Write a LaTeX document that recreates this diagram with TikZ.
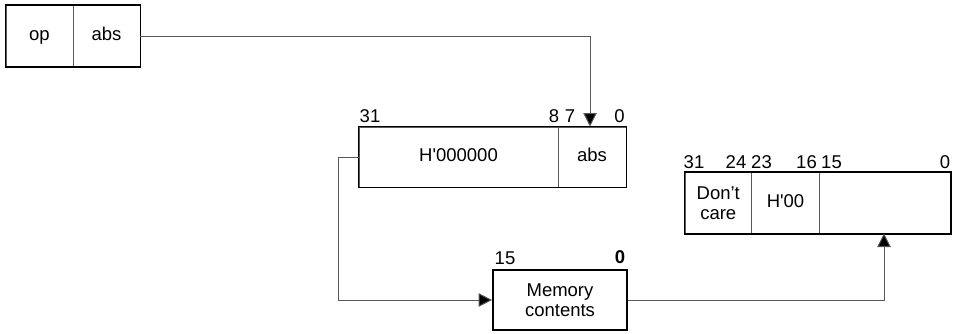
\documentclass[tikz,border=0pt]{standalone}
\usepackage{fontspec}
\setmainfont{Liberation Sans}
\usetikzlibrary{arrows.meta}
\begin{document}
\begin{tikzpicture}[x=1pt,y=-1pt,
  cell/.style={draw=black!65, line width=0.8pt, minimum height=61pt, inner sep=0pt, align=center, font=\fontsize{18.5}{20}\selectfont},
  one/.style={text height=13pt, text depth=4pt},
  frame/.style={draw=black, line width=1.7pt},
  conn/.style={draw=black!65, line width=1pt},
  tip/.style={-{Triangle[length=13.5pt,width=13.5pt,fill=black]}},
  bit/.style={inner sep=0pt, font=\fontsize{18.5}{20}\selectfont}]
\useasboundingbox (0,0) rectangle (957,333);
% instruction
\node[cell, one, minimum width=67pt] (op) at (39.5,36) {op};
\node[cell, one, minimum width=67pt] (abs1) at (106.5,36) {abs};
\draw[frame] (op.north west) rectangle (abs1.south east);
% register after zero extension
\node[cell, one, minimum width=199pt, minimum height=60pt] (hcell) at (458.5,157) {H\textquotesingle 000000};
\node[cell, one, minimum width=68pt, minimum height=60pt] (abs2) at (592,157) {abs};
\draw[frame] (hcell.north west) rectangle (abs2.south east);
\node[bit] (b31a) at (370,116) {31};
\node[bit] (b8a) at (554,116) {8};
\node[bit] (b7a) at (570,116) {7};
\node[bit] (b0a) at (619.5,116) {0};
% memory
\node[cell, frame, minimum width=134pt, minimum height=60pt] (mem) at (560,300) {Memory\\contents};
\node[bit] (b15m) at (505,258) {15};
\node[bit, font=\fontsize{18.5}{20}\selectfont\bfseries] (b0m) at (620,257) {0};
% destination register
\node[cell, minimum width=66.5pt] (dc) at (718.25,203) {Don’t\\care};
\node[cell, one, minimum width=68pt] (h00) at (785.5,203) {H\textquotesingle 00};
\node[cell, minimum width=131pt] (low) at (885,203) {};
\draw[frame] (dc.north west) rectangle (low.south east);
\node[bit] (b31c) at (694,162) {31};
\node[bit] (b24c) at (736,162) {24};
\node[bit] (b23c) at (761.5,162) {23};
\node[bit] (b16c) at (806.5,162) {16};
\node[bit] (b15c) at (831.5,162) {15};
\node[bit] (b0c) at (945,162) {0};
% connectors
\coordinate (t1) at (590,126.5);
\coordinate (c2) at (338,157);
\coordinate (t3) at (884,233.5);
\draw[conn, tip] (abs1.east) -| (t1);
\draw[conn, tip] (hcell.west) -- (c2) |- (mem.west);
\draw[conn, tip] (mem.east) -| (t3);
\end{tikzpicture}
\end{document}
